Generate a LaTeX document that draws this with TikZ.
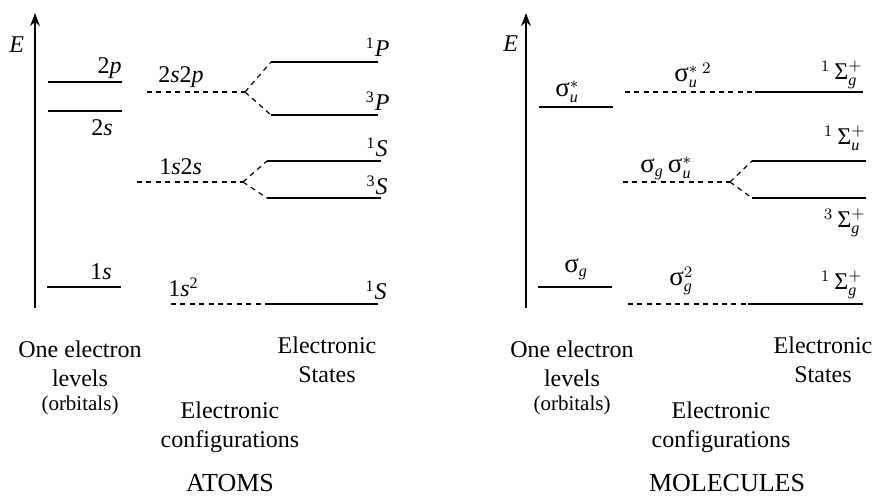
\documentclass[tikz,border=0pt]{standalone}
\usepackage{amsmath}
\usepackage{fontspec}
\setmainfont{Liberation Serif}
\usetikzlibrary{arrows.meta}

\newcommand{\sg}{\text{\fontsize{13.5}{14}\selectfont σ}}
\newcommand{\Sg}{\text{Σ}}

\begin{document}
\begin{tikzpicture}[
    x=0.5pt, y=-0.5pt,
    >={Stealth[length=6.5pt,width=4.8pt]},
    axis/.style={->, line width=1.2pt},
    level/.style={line width=1pt},
    config/.style={line width=0.6pt, dash pattern=on 2.5pt off 2.2pt},
    lbl/.style={inner sep=0pt, font=\fontsize{12}{14}\selectfont},
    caption/.style={inner sep=0pt, align=center, anchor=north, font=\fontsize{12}{14.5}\selectfont},
    title/.style={inner sep=0pt, anchor=base, font=\fontsize{13}{15}\selectfont}
]
    \useasboundingbox (0,0) rectangle (873,496);

    % ATOMS
    \coordinate (aBot) at (35,308);
    \coordinate (aTop) at (35,13);
    \draw[axis] (aBot) -- (aTop);
    \node[lbl, anchor=base west] (aE) at (9,53) {\textit{E}};

    % one electron levels
    \coordinate (o2pL) at (48,82);  \coordinate (o2pR) at (122,82);
    \coordinate (o2sL) at (48,111); \coordinate (o2sR) at (122,111);
    \coordinate (o1sL) at (47,287); \coordinate (o1sR) at (121,287);
    \draw[level] (o2pL) -- (o2pR);
    \draw[level] (o2sL) -- (o2sR);
    \draw[level] (o1sL) -- (o1sR);
    \node[lbl, anchor=base east] (l2p) at (122,74) {2\textit{p}};
    \node[lbl, anchor=base east] (l2s) at (113,136) {2\textit{s}};
    \node[lbl, anchor=base east] (l1s) at (112,280) {1\textit{s}};

    % configurations
    \coordinate (c2s2pL) at (147,92);  \coordinate (c2s2pR) at (245,92);
    \coordinate (c1s2sL) at (137,182); \coordinate (c1s2sR) at (243,182);
    \coordinate (c1ssL) at (171,304);  \coordinate (c1ssR) at (265,304);
    \draw[config] (c2s2pL) -- (c2s2pR);
    \draw[config] (c1s2sL) -- (c1s2sR);
    \draw[config] (c1ssL) -- (c1ssR);
    \node[lbl, anchor=base west] (l2s2p) at (158,83) {2\textit{s}2\textit{p}};
    \node[lbl, anchor=base west] (l1s2s) at (159,175) {1\textit{s}2\textit{s}};
    \node[lbl, anchor=base west] (l1ss) at (168,297) {1\textit{s}\textsuperscript{2}};

    % states
    \coordinate (s1PL) at (271,62);  \coordinate (s1PR) at (378,62);
    \coordinate (s3PL) at (271,115); \coordinate (s3PR) at (378,115);
    \coordinate (s1SL) at (267,161); \coordinate (s1SR) at (381,161);
    \coordinate (s3SL) at (267,198); \coordinate (s3SR) at (381,198);
    \coordinate (s1S0R) at (378,304);
    \draw[config] (c2s2pR) -- (s1PL);
    \draw[config] (c2s2pR) -- (s3PL);
    \draw[config] (c1s2sR) -- (s1SL);
    \draw[config] (c1s2sR) -- (s3SL);
    \draw[level] (s1PL) -- (s1PR);
    \draw[level] (s3PL) -- (s3PR);
    \draw[level] (s1SL) -- (s1SR);
    \draw[level] (s3SL) -- (s3SR);
    \draw[level] (c1ssR) -- (s1S0R);
    \node[lbl, anchor=base east] (l1P) at (390,57) {\textsuperscript{1}\textit{P}};
    \node[lbl, anchor=base east] (l3P) at (390,111) {\textsuperscript{3}\textit{P}};
    \node[lbl, anchor=base east] (l1S) at (388,157) {\textsuperscript{1}\textit{S}};
    \node[lbl, anchor=base east] (l3S) at (388,195) {\textsuperscript{3}\textit{S}};
    \node[lbl, anchor=base east] (l1S0) at (387,300) {\textsuperscript{1}\textit{S}};

    \node[caption] (aOne) at (80,340.5) {One electron\\levels\\[-2.5pt]{\fontsize{10.5}{12}\selectfont(orbitals)}};
    \node[caption] (aConf) at (230,401.5) {Electronic\\configurations};
    \node[caption] (aStates) at (327,336.5) {Electronic\\States};
    \node[title] (atoms) at (230,492) {ATOMS};

    % MOLECULES
    \coordinate (mBot) at (526,308);
    \coordinate (mTop) at (526,13);
    \draw[axis] (mBot) -- (mTop);
    \node[lbl, anchor=base west] (mE) at (503,52) {\textit{E}};

    % one electron levels
    \coordinate (oSuL) at (539,107); \coordinate (oSuR) at (613,107);
    \coordinate (oSgL) at (538,287); \coordinate (oSgR) at (612,287);
    \draw[level] (oSuL) -- (oSuR);
    \draw[level] (oSgL) -- (oSgR);
    \node[lbl, anchor=base west] (lSu) at (555,97) {$\sg_{\textit{u}}^{*}$};
    \node[lbl, anchor=base west] (lSg) at (564,273) {$\sg_{\textit{g}}$};

    % configurations
    \coordinate (cUUL) at (625,92);  \coordinate (cUUR) at (755,92);
    \coordinate (cGUL) at (623,182); \coordinate (cGUR) at (730,182);
    \coordinate (cGGL) at (628,304); \coordinate (cGGR) at (748,304);
    \draw[config] (cUUL) -- (cUUR);
    \draw[config] (cGUL) -- (cGUR);
    \draw[config] (cGGL) -- (cGGR);
    \node[lbl, anchor=base west] (lUU) at (674,82) {$\sg_{\textit{u}}^{*\;2}$};
    \node[lbl, anchor=base west] (lGU) at (640,173) {$\sg_{\textit{g}}\,\sg_{\textit{u}}^{*}$};
    \node[lbl, anchor=base west] (lGG) at (669,286) {$\sg_{\textit{g}}^{2}$};

    % states
    \coordinate (sTopR) at (863,92);
    \coordinate (s1uL) at (752,161); \coordinate (s1uR) at (866,161);
    \coordinate (s3gL) at (752,198); \coordinate (s3gR) at (866,198);
    \coordinate (sBotR) at (863,304);
    \draw[config] (cGUR) -- (s1uL);
    \draw[config] (cGUR) -- (s3gL);
    \draw[level] (cUUR) -- (sTopR);
    \draw[level] (s1uL) -- (s1uR);
    \draw[level] (s3gL) -- (s3gR);
    \draw[level] (cGGR) -- (sBotR);
    \node[lbl, anchor=base east] (lTop) at (863,80) {${}^{1}\,\Sg_{\textit{g}}^{+}$};
    \node[lbl, anchor=base east] (l1u) at (866,145) {${}^{1}\,\Sg_{\textit{u}}^{+}$};
    \node[lbl, anchor=base east] (l3g) at (866,228) {${}^{3}\,\Sg_{\textit{g}}^{+}$};
    \node[lbl, anchor=base east] (lBot) at (863,290) {${}^{1}\,\Sg_{\textit{g}}^{+}$};

    \node[caption] (mOne) at (572,340.5) {One electron\\levels\\[-2.5pt]{\fontsize{10.5}{12}\selectfont(orbitals)}};
    \node[caption] (mConf) at (721,401.5) {Electronic\\configurations};
    \node[caption] (mStates) at (823,336.5) {Electronic\\States};
    \node[title] (molecules) at (727,492) {MOLECULES};
\end{tikzpicture}
\end{document}
